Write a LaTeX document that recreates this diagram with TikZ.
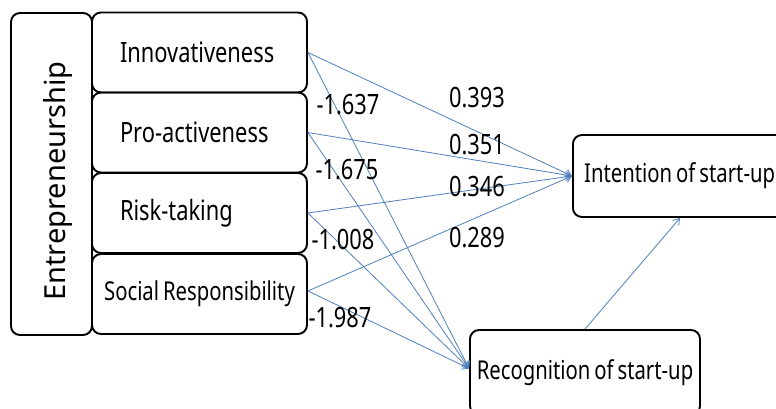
\documentclass[tikz,border=0pt]{standalone}
\usepackage{fontspec}
\setmainfont[FakeStretch=0.78, WordSpace=0.75]{Noto Sans}
\newfontfamily\entfont{Noto Sans}
\usetikzlibrary{arrows.meta}
\definecolor{path}{RGB}{79, 129, 189}

\tikzset{
  box/.style={draw, line width=1.9pt, rounded corners=9pt, inner sep=0pt},
  subbox/.style={box, minimum width=215pt, minimum height=80pt},
  leftbox/.style={subbox, text width=159pt, align=left, inner xsep=28pt},
  coef/.style={font=\fontsize{28}{32}\selectfont, inner sep=0pt},
  small/.style={font=\fontsize{26}{30}\selectfont},
  link/.style={color=path, line width=0.8pt, -{Straight Barb[length=6pt, width=8pt]}}
}

\begin{document}
\begin{tikzpicture}[x=1pt, y=-1pt, font=\fontsize{28}{32}\selectfont]
  \clip (0, 0) rectangle (776, 409);
  \fill[white] (0, 0) rectangle (776, 409);

  \node[box, minimum width=81pt, minimum height=322pt] (ent) at (51.5, 174) {};
  \node[rotate=90, font=\entfont\fontsize{29}{32}\selectfont] (enttext) at (58, 181) {Entrepreneurship};

  \node[leftbox] (inn) at (199.5, 52.5) {Innovativeness};
  \node[leftbox] (pro) at (199.5, 132.5) {Pro-activeness};
  \node[leftbox] (risk) at (199.5, 213) {Risk-taking};
  \node[subbox, small] (soc) at (199.5, 294) {Social Responsibility};

  \node[box, minimum width=230pt, minimum height=82pt, anchor=west] (int) at (572, 176) {};
  \node[small, anchor=west, inner sep=0pt] (inttext) at ([xshift=12pt]int.west) {Intention of start-up};
  \node[box, small, minimum width=230pt, minimum height=85pt] (rec) at (585, 372.5) {Recognition of start-up};
  \coordinate (intbot) at ([xshift=108pt]int.south west);

  % paths to intention
  \draw[link] (inn.east) -- (int.west);
  \draw[link] (pro.east) -- (int.west);
  \draw[link] (risk.east) -- (int.west);
  \draw[link] ([yshift=3pt]soc.east) -- (int.west);

  % paths to recognition
  \draw[link] (inn.east) -- ([yshift=4pt]rec.west);
  \draw[link] (pro.east) -- ([yshift=4pt]rec.west);
  \draw[link] (risk.east) -- ([yshift=4pt]rec.west);
  \draw[link] ([yshift=3pt]soc.east) -- ([yshift=4pt]rec.west);

  \draw[link] (rec.north) -- (intbot);

  \node[coef] (c1) at (348, 105) {-1.637};
  \node[coef] (c2) at (347, 170) {-1.675};
  \node[coef] (c3) at (343, 240) {-1.008};
  \node[coef] (c4) at (340, 318) {-1.987};
  \node[coef] (c5) at (477, 98) {0.393};
  \node[coef] (c6) at (477, 145) {0.351};
  \node[coef] (c7) at (477, 187) {0.346};
  \node[coef] (c8) at (477, 238) {0.289};
\end{tikzpicture}
\end{document}
